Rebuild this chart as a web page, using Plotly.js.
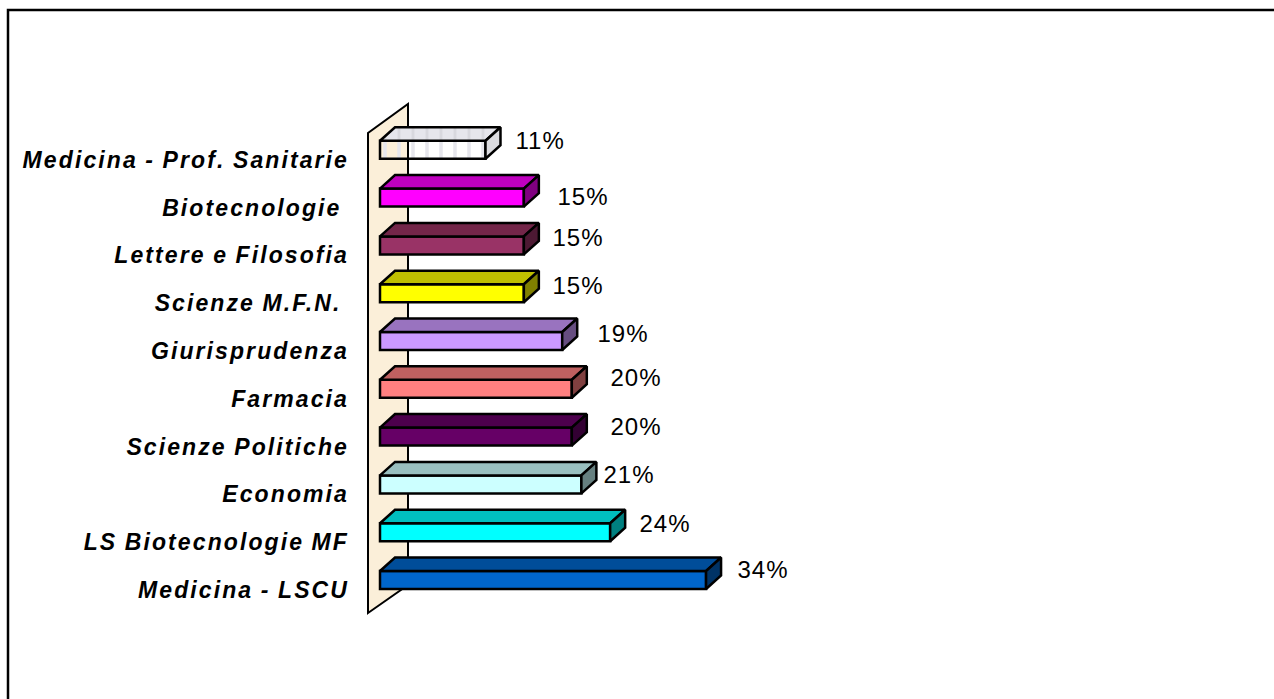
<!DOCTYPE html>
<html>
<head>
<meta charset="utf-8">
<script src="https://cdn.plot.ly/plotly-3.0.1.min.js"></script>
<style>
html,body{margin:0;padding:0;background:#fff;overflow:hidden}
#chart{width:1274px;height:699px}
.ytick text{letter-spacing:2.1px;word-spacing:-1px}
.annotation text{letter-spacing:1px}
</style>
</head>
<body>
<div id="chart"></div>
<script>
// data, bottom to top as drawn
var categories = ["Medicina - LSCU","LS Biotecnologie MF","Economia","Scienze Politiche","Farmacia","Giurisprudenza","Scienze M.F.N.\u00A0","Lettere e Filosofia","Biotecnologie\u00A0","Medicina - Prof. Sanitarie"];
var values = [34,24,21,20,20,19,15,15,15,11];
var frontColors = ["#0066CC","#00FFFF","#CCFFFF","#660066","#FF8080","#CC99FF","#FFFF00","#993366","#FF00FF","#E6E6EC"];
var topColors   = ["#004D99","#00BFBF","#99BFBF","#4D004D","#BF6060","#9973BF","#BFBF00","#732649","#BF00BF","#E6E6EC"];
var sideColors  = ["#003366","#008080","#668080","#330033","#804040","#664D80","#808000","#4D1933","#800080","#DCDCE0"];

// geometry in axis units
var pxPerX = 9.59, pxPerY = 47.8;
var x0Px = 380, y0Px = 580, W = 1274, H = 699;
var xr = [-x0Px/pxPerX, (W-x0Px)/pxPerX];
var yr = [(y0Px-H)/pxPerY, y0Px/pxPerY];
var barThick = 18/pxPerY;
var dx = 15/pxPerX, dy = 13.5/pxPerY;
var lw = 2.5;

var idx = categories.map(function(_,i){return i;});
var traces = [{
  type:"bar", orientation:"h", x:values, y:idx, width:barThick,
  marker:{color:frontColors, line:{color:"#000",width:lw},
    pattern:{shape:idx.map(function(i){return i===9?"|":"";}),fgcolor:"#D2D2DA",bgcolor:"#E6E6EC",size:14,solidity:0.25}},
  hoverinfo:"x+text", text:categories, textposition:"none"
}];
values.forEach(function(v,i){
  var t=i+barThick/2, b=i-barThick/2;
  var topFace={type:"scatter",mode:"lines",fill:"toself",fillcolor:topColors[i],
    x:[0,v,v+dx,dx,0],y:[t,t,t+dy,t+dy,t],
    line:{color:"#000",width:lw},hoverinfo:"skip"};
  if(i===9){topFace.fillpattern={shape:"|",fgcolor:"#D8D8DE",bgcolor:topColors[i],size:14,solidity:0.2};}
  traces.push(topFace);
  traces.push({type:"scatter",mode:"lines",fill:"toself",fillcolor:sideColors[i],
    x:[v,v+dx,v+dx,v,v],y:[b,b+dy,t+dy,t,b],
    line:{color:"#000",width:lw},hoverinfo:"skip"});
});

// value label nudges, in pixels from the bar end
var labelNudgeX = [57,55,48,64,64,61,54,54,59,54.5];
var labelNudgeY = [11,9,10,10,11,8,8,8,1,9];
var annotations = values.map(function(v,i){
  return {x:v,y:i,xref:"x",yref:"y",text:v+"%",showarrow:false,xanchor:"center",yanchor:"middle",
    xshift:labelNudgeX[i],yshift:labelNudgeY[i],font:{family:"Liberation Sans",size:24,color:"#000"}};
});

var wall = function(){
  var xa=-12/pxPerX, xb=28/pxPerX;
  return "M"+xa+","+((y0Px-613)/pxPerY)+" L"+xb+","+((y0Px-585)/pxPerY)+" L"+xb+","+((y0Px-104)/pxPerY)+" L"+xa+","+((y0Px-133)/pxPerY)+" Z";
}();

var layout = {
  width:W,height:H,margin:{l:0,r:0,t:0,b:0,pad:0},
  paper_bgcolor:"#fff",plot_bgcolor:"rgba(0,0,0,0)",showlegend:false,barmode:"overlay",
  xaxis:{range:xr,showgrid:false,zeroline:false,showticklabels:false,ticks:"",fixedrange:true},
  yaxis:{range:yr,showgrid:false,zeroline:false,showline:false,ticks:"",fixedrange:true,
    anchor:"free",position:349/W,side:"left",tickmode:"array",
    tickvals:idx.map(function(i){return i-10/pxPerY;}),ticktext:categories,
    tickfont:{family:"Liberation Sans",size:23,color:"#000",weight:700,style:"italic"}},
  annotations:annotations,
  shapes:[
    {type:"path",layer:"below",path:wall,xref:"x",yref:"y",fillcolor:"#FBEFD9",line:{color:"#000",width:2}},
    {type:"path",layer:"below",xref:"paper",yref:"paper",path:"M"+(8/W)+",0 L"+(8/W)+","+(1-10/H)+" L1,"+(1-10/H),line:{color:"#000",width:2.5}}
  ]
};
Plotly.newPlot("chart",traces,layout,{displayModeBar:false,staticPlot:true});
</script>
</body>
</html>
